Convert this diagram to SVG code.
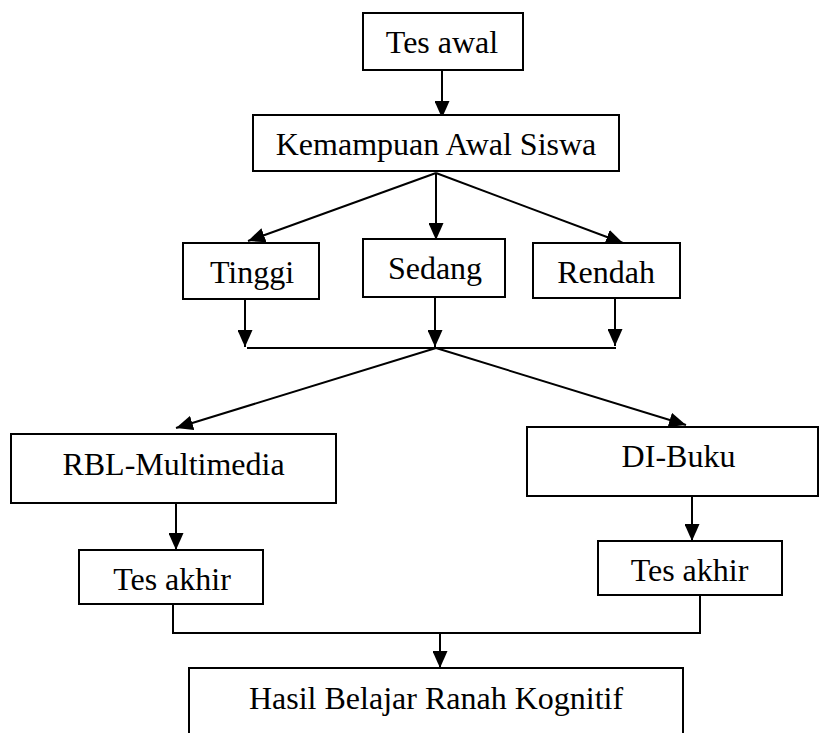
<svg xmlns="http://www.w3.org/2000/svg" width="820" height="733" viewBox="0 0 820 733">
<style>
.box{fill:#fff;stroke:#000;stroke-width:2}
.lbl{font-family:"Liberation Serif","Times New Roman",serif;font-size:32px;fill:#000;text-anchor:middle}
.con{stroke:#000;stroke-width:2;fill:none}
.arr{marker-end:url(#ah)}
</style>
<defs>
<marker id="ah" markerUnits="userSpaceOnUse" markerWidth="17" markerHeight="15" refX="17" refY="7.5" orient="auto" viewBox="0 0 17 15">
<path d="M0,0 L17,7.5 L0,15 z" fill="#000"/>
</marker>
</defs>
<rect width="820" height="733" fill="#fff"/>
<g id="connectors">
<line class="con arr" x1="442" y1="71" x2="442" y2="118"/>
<line class="con arr" x1="436" y1="173" x2="248" y2="241"/>
<line class="con arr" x1="436" y1="173" x2="436" y2="240"/>
<line class="con arr" x1="436" y1="173" x2="623" y2="243"/>
<line class="con arr" x1="245" y1="299" x2="245" y2="347"/>
<line class="con arr" x1="435" y1="297" x2="435" y2="347"/>
<line class="con arr" x1="615" y1="298" x2="615" y2="346"/>
<line class="con" x1="247" y1="348" x2="616" y2="348"/>
<line class="con arr" x1="436" y1="348" x2="176" y2="428"/>
<line class="con arr" x1="436" y1="348" x2="686" y2="425"/>
<line class="con arr" x1="176" y1="503" x2="176" y2="550"/>
<line class="con arr" x1="692" y1="496" x2="692" y2="541"/>
<polyline class="con" points="173,604 173,633 700,633 700,595"/>
<line class="con arr" x1="440" y1="633" x2="440" y2="668"/>
</g>
<g id="tes-awal"><rect class="box" x="363" y="13" width="160" height="57"/><text class="lbl" x="442" y="53">Tes awal</text></g>
<g id="kemampuan"><rect class="box" x="253" y="115" width="366" height="56"/><text class="lbl" x="436" y="155">Kemampuan Awal Siswa</text></g>
<g id="tinggi"><rect class="box" x="183" y="243" width="136" height="56"/><text class="lbl" x="252" y="283">Tinggi</text></g>
<g id="sedang"><rect class="box" x="363" y="239" width="142" height="58"/><text class="lbl" x="435" y="279">Sedang</text></g>
<g id="rendah"><rect class="box" x="533" y="243" width="147" height="55"/><text class="lbl" x="606" y="283">Rendah</text></g>
<g id="rbl"><rect class="box" x="11" y="434" width="325" height="69"/><text class="lbl" x="173.5" y="475">RBL-Multimedia</text></g>
<g id="di-buku"><rect class="box" x="527" y="427" width="291" height="69"/><text class="lbl" x="678.5" y="467">DI-Buku</text></g>
<g id="tes-akhir-1"><rect class="box" x="79" y="550" width="184" height="54"/><text class="lbl" x="172" y="590">Tes akhir</text></g>
<g id="tes-akhir-2"><rect class="box" x="598" y="541" width="184" height="54"/><text class="lbl" x="689.5" y="581">Tes akhir</text></g>
<g id="hasil"><rect class="box" x="189" y="668" width="494" height="80"/><text class="lbl" x="436" y="709">Hasil Belajar Ranah Kognitif</text></g>
</svg>
